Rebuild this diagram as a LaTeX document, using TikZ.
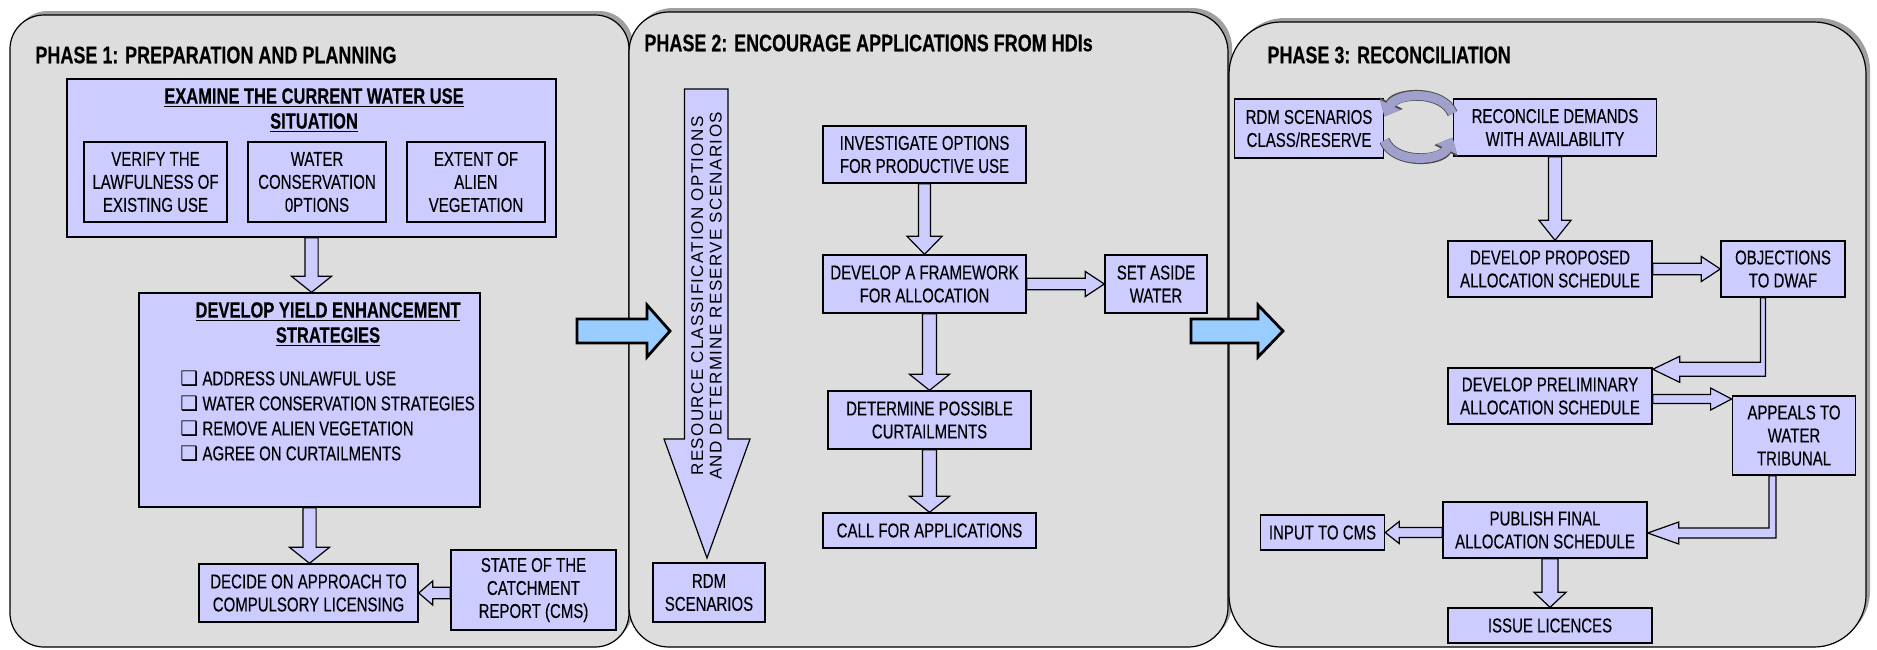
\documentclass[tikz,border=0pt]{standalone}
\usepackage{fontspec}
\setmainfont{Liberation Sans}
\newfontfamily\narrowfont[FakeStretch=0.75, FakeBold=0.3]{Liberation Sans}
\newfontfamily\spacedfont[LetterSpace=8]{Liberation Sans}
\newfontfamily\symfont{DejaVu Sans}
\usetikzlibrary{shapes, arrows.meta, positioning, calc}

\definecolor{panelgray}{RGB}{221,221,221}
\definecolor{shadowgray}{RGB}{160,160,160}
\definecolor{boxfill}{RGB}{204,204,255}
\definecolor{bluefill}{RGB}{153,204,255}
\definecolor{cycfill}{RGB}{160,160,205}

% hollow block arrow: start, tip, shaft half width, head half width, head length
\newcommand\hollowarr[5]{%
  \coordinate (hb) at ($(#2)!#5!(#1)$);
  \draw[hollow] ($(#1)!#3!90:(#2)$) -- ($(hb)!#3!90:(#2)$) -- ($(hb)!#4!90:(#2)$) -- (#2)
    -- ($(hb)!#4!-90:(#2)$) -- ($(hb)!#3!-90:(#2)$) -- ($(#1)!#3!-90:(#2)$) -- cycle;}
\newcommand\bul{{\symfont\fontsize{10}{12.5}\selectfont ❑}}

\begin{document}
\begin{tikzpicture}[x=0.5pt, y=-0.5pt,
          box/.style={draw, fill=boxfill, line width=0.7pt, inner sep=0pt, align=center,
                      font=\narrowfont\fontsize{10}{11.5}\selectfont},
          boxtitle/.style={inner sep=0pt, align=center, font=\narrowfont\bfseries\fontsize{11}{12.5}\selectfont},
          phasetitle/.style={anchor=west, inner sep=0pt, font=\narrowfont\bfseries\fontsize{12}{14}\selectfont},
          hollow/.style={draw, fill=boxfill, line width=0.6pt, line join=miter},
          panel/.style={fill=panelgray, draw=black, line width=0.6pt},
          shadow/.style={fill=shadowgray, shift={(4,-4)}},
          bigarrow/.style={draw, fill=bluefill, line width=1.4pt, line join=miter},
          cycarrow/.style={draw=cycfill, line width=4.5pt, -{Triangle[length=6.5pt, width=11pt]},
                           preaction={draw=black!70, line width=5.4pt, -{Triangle[length=7.5pt, width=12.5pt]}}}]
    \useasboundingbox (0,0) rectangle (1877,649);

    % panels
    \fill[shadow, rounded corners=17pt] (10,15) rectangle (629,647);
    \draw[panel, rounded corners=17pt] (10,15) rectangle (629,647);
    \fill[shadow, rounded corners=20pt] (629,12) rectangle (1228,647);
    \draw[panel, rounded corners=20pt] (629,12) rectangle (1228,647);
    \fill[shadow, rounded corners=26pt] (1229,22) rectangle (1866,647);
    \draw[panel, rounded corners=26pt] (1229,22) rectangle (1866,647);

    % phase 1
    \node[phasetitle] (t1) at (35,55) {PHASE 1: PREPARATION AND PLANNING};
    \node[box, minimum width=244.5pt, minimum height=79pt] (exam) at (311.5,158) {};
    \node[boxtitle] (examt) at (314,110.5) {\underline{EXAMINE THE CURRENT WATER USE}\\\underline{SITUATION}};
    \node[box, minimum width=71.5pt, minimum height=40pt] (verify) at (155.5,182) {VERIFY THE\\LAWFULNESS OF\\EXISTING USE};
    \node[box, minimum width=69pt, minimum height=40pt] (wcons) at (317,182) {WATER\\CONSERVATION\\0PTIONS};
    \node[box, minimum width=69pt, minimum height=40pt] (alien) at (476,182) {EXTENT OF\\ALIEN\\VEGETATION};
    \node[box, minimum width=170.5pt, minimum height=107pt] (yield) at (309.5,400) {};
    \node[boxtitle] (yieldt) at (328,324.5) {\underline{DEVELOP YIELD ENHANCEMENT}\\\underline{STRATEGIES}};
    \node[anchor=west, inner sep=0pt, align=left, font=\narrowfont\fontsize{10}{12.5}\selectfont] (yieldl) at (180,416)
        {\bul\ ADDRESS UNLAWFUL USE\\\bul\ WATER CONSERVATION STRATEGIES\\\bul\ REMOVE ALIEN VEGETATION\\\bul\ AGREE ON CURTAILMENTS};
    \node[box, minimum width=109.5pt, minimum height=29pt] (decide) at (308.5,593) {DECIDE ON APPROACH TO\\COMPULSORY LICENSING};
    \node[box, minimum width=82.5pt, minimum height=40pt] (state) at (533.5,590) {STATE OF THE\\CATCHMENT\\REPORT (CMS)};
    \hollowarr{exam.south}{exam.south |- yield.north}{3.3pt}{10pt}{8pt}
    \hollowarr{yield.south}{yield.south |- decide.north}{3.3pt}{10pt}{8pt}
    \hollowarr{state.west |- decide.east}{decide.east}{2.9pt}{6pt}{7pt}

    \draw[bigarrow] (577,319) -- (647,319) -- (647,305) -- (670,331) -- (647,357) -- (647,343) -- (577,343) -- cycle;

    % phase 2
    \node[phasetitle] (t2) at (644,43) {PHASE 2: ENCOURAGE APPLICATIONS FROM HDIs};
    \node[box, minimum width=56pt, minimum height=29.5pt] (rdm) at (709,592.5) {RDM\\SCENARIOS};
    \draw[hollow] (684.5,89) -- (728,89) -- (728,439) -- (750,439) -- (707,558) -- (664,439) -- (684.5,439) -- cycle;
    \node[rotate=90, inner sep=0pt, align=center, font=\spacedfont\fontsize{8.5}{9.25}\selectfont] (rescls) at (706.5,296)
        {RESOURCE CLASSIFICATION OPTIONS\\AND DETERMINE RESERVE SCENARIOS};
    \node[box, minimum width=101.5pt, minimum height=28.5pt] (invest) at (924.5,154.5) {INVESTIGATE OPTIONS\\FOR PRODUCTIVE USE};
    \node[box, minimum width=101.5pt, minimum height=29pt] (frame) at (924.5,284) {DEVELOP A FRAMEWORK\\FOR ALLOCATION};
    \node[box, minimum width=51pt, minimum height=29pt] (aside) at (1156,284) {SET ASIDE\\WATER};
    \node[box, minimum width=101.5pt, minimum height=29pt] (curt) at (929.5,420) {DETERMINE POSSIBLE\\CURTAILMENTS};
    \node[box, minimum width=106.5pt, minimum height=17.5pt] (call) at (929.5,530.5) {CALL FOR APPLICATIONS};
    \hollowarr{invest.south}{invest.south |- frame.north}{3pt}{8.75pt}{9pt}
    \hollowarr{frame.east}{aside.west}{2.9pt}{6.25pt}{9.5pt}
    \hollowarr{curt.north |- frame.south}{curt.north}{3.5pt}{10pt}{8pt}
    \hollowarr{curt.south}{curt.south |- call.north}{3.5pt}{10pt}{8pt}

    \draw[bigarrow] (1191,319) -- (1258,319) -- (1258,305) -- (1283,331) -- (1258,357) -- (1258,343) -- (1191,343) -- cycle;

    % phase 3
    \node[phasetitle] (t3) at (1267,55) {PHASE 3: RECONCILIATION};
    \node[box, minimum width=74.7pt, minimum height=29.5pt] (rdmc) at (1309,128.5) {RDM SCENARIOS\\CLASS/RESERVE};
    \node[box, minimum width=101.75pt, minimum height=28.5pt] (recon) at (1555,127.5) {RECONCILE DEMANDS\\WITH AVAILABILITY};
    \node[box, minimum width=102pt, minimum height=28pt] (propo) at (1550,269) {DEVELOP PROPOSED\\ALLOCATION SCHEDULE};
    \node[box, minimum width=62pt, minimum height=28pt] (object) at (1783,269) {OBJECTIONS\\TO DWAF};
    \node[box, minimum width=102pt, minimum height=28pt] (prelim) at (1550,396) {DEVELOP PRELIMINARY\\ALLOCATION SCHEDULE};
    \node[box, minimum width=61.7pt, minimum height=39.5pt] (appeal) at (1794,435.5) {APPEALS TO\\WATER\\TRIBUNAL};
    \node[box, minimum width=102pt, minimum height=28pt] (publish) at (1545,530) {PUBLISH FINAL\\ALLOCATION SCHEDULE};
    \node[box, minimum width=62pt, minimum height=17.5pt] (input) at (1322.5,532.5) {INPUT TO CMS};
    \node[box, minimum width=102pt, minimum height=17.5pt] (issue) at (1550,625.5) {ISSUE LICENCES};

    \draw[cycarrow] ([yshift=7pt]recon.west) .. controls +(-10,-24) and +(12,-24) .. ([yshift=6pt]rdmc.east);
    \draw[cycarrow] ([yshift=-6pt]rdmc.east) .. controls +(10,24) and +(-12,24) .. ([yshift=-5pt]recon.west);

    \hollowarr{recon.south}{recon.south |- propo.north}{3.3pt}{8pt}{10pt}
    \hollowarr{propo.east}{object.west}{2.9pt}{6.25pt}{9.5pt}
    \draw[hollow] let \p1=([xshift=-10pt]object.south), \p2=([yshift=-1pt]prelim.north east) in
        (\x1-1.25pt,\y1) -- (\x1-1.25pt,\y2+3.5pt) -- (\x2+13.5pt,\y2+3.5pt) -- (\x2+13.5pt,\y2+6.5pt)
        -- (\p2) -- (\x2+13.5pt,\y2-6.5pt) -- (\x2+13.5pt,\y2-3.5pt) -- (\x1+1.25pt,\y2-3.5pt) -- (\x1+1.25pt,\y1) -- cycle;
    \coordinate (pa) at ([yshift=-1.5pt]prelim.east);
    \coordinate (pb) at (pa -| appeal.west);
    \hollowarr{pa}{pb}{2.25pt}{5.5pt}{10.5pt}
    \draw[hollow] let \p1=([xshift=-10.75pt]appeal.south), \p2=([yshift=-1.5pt]publish.east) in
        (\x1-1.75pt,\y1) -- (\x1-1.75pt,\y2+2.5pt) -- (\x2+15.5pt,\y2+2.5pt) -- (\x2+15.5pt,\y2+5.5pt)
        -- (\p2) -- (\x2+15.5pt,\y2-5.5pt) -- (\x2+15.5pt,\y2-2.5pt) -- (\x1+1.75pt,\y2-2.5pt) -- (\x1+1.75pt,\y1) -- cycle;
    \hollowarr{publish.west |- input.east}{input.east}{2.5pt}{5.5pt}{7pt}
    \hollowarr{issue.north |- publish.south}{issue.north}{4pt}{8pt}{7.5pt}
\end{tikzpicture}
\end{document}
